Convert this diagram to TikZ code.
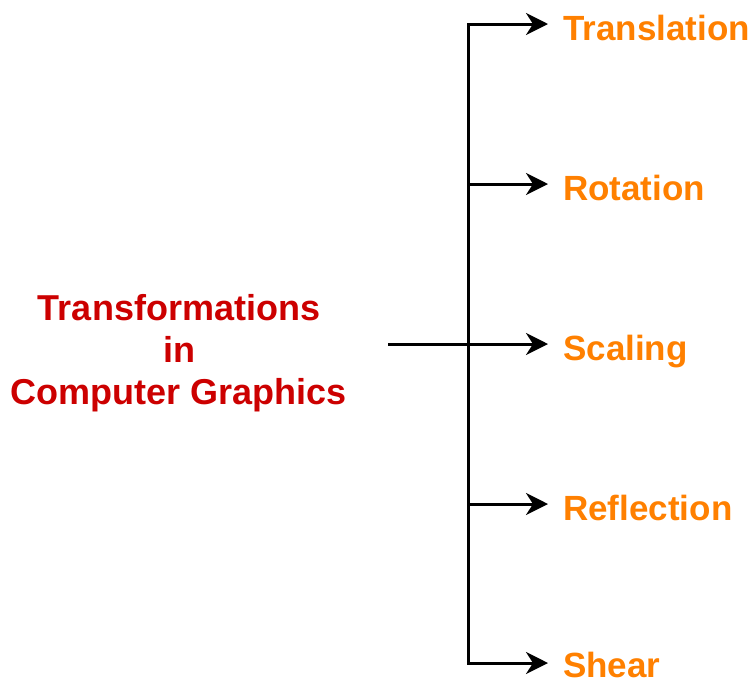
\documentclass[tikz,border=0pt]{standalone}
\usepackage{fontspec}
\setmainfont{Liberation Sans}
\usetikzlibrary{arrows.meta}
\definecolor{titlered}{HTML}{CC0000}
\definecolor{itemorange}{HTML}{FF8000}
\tikzset{
  conn/.style={line width=3pt, line cap=rect},
  arr/.style={line width=3pt, -{Stealth[length=22pt,width=22pt,inset=7pt]}},
  item/.style={anchor=base west, inner xsep=15pt, inner ysep=0pt, text=itemorange,
    font=\fontsize{35}{42}\selectfont\bfseries},
  title/.style={anchor=base, align=center, inner sep=0pt, text=titlered,
    font=\fontsize{36}{42}\selectfont\bfseries}
}
\begin{document}
\begin{tikzpicture}[x=1pt,y=1pt]
\useasboundingbox (0,0) rectangle (754,-683);
\node[title] (src) at (179,-404) {Transformations\\in\\Computer Graphics};
\coordinate (start) at (388,-344);
\coordinate (j1) at (468,-24);
\coordinate (j2) at (468,-184);
\coordinate (j3) at (468,-344);
\coordinate (j4) at (468,-504);
\coordinate (j5) at (468,-663);
\node[item] (t1) at (548,-40) {Translation};
\node[item] (t2) at (548,-200) {Rotation};
\node[item] (t3) at (548,-360) {Scaling};
\node[item] (t4) at (548,-520) {Reflection};
\node[item] (t5) at (548,-677) {Shear};
\draw[conn] (j1) -- (j5);
\draw[arr] (j1) -- (j1 -| t1.west);
\draw[arr] (j2) -- (j2 -| t2.west);
\draw[arr] (start) -- (j3 -| t3.west);
\draw[arr] (j4) -- (j4 -| t4.west);
\draw[arr] (j5) -- (j5 -| t5.west);
\end{tikzpicture}
\end{document}
